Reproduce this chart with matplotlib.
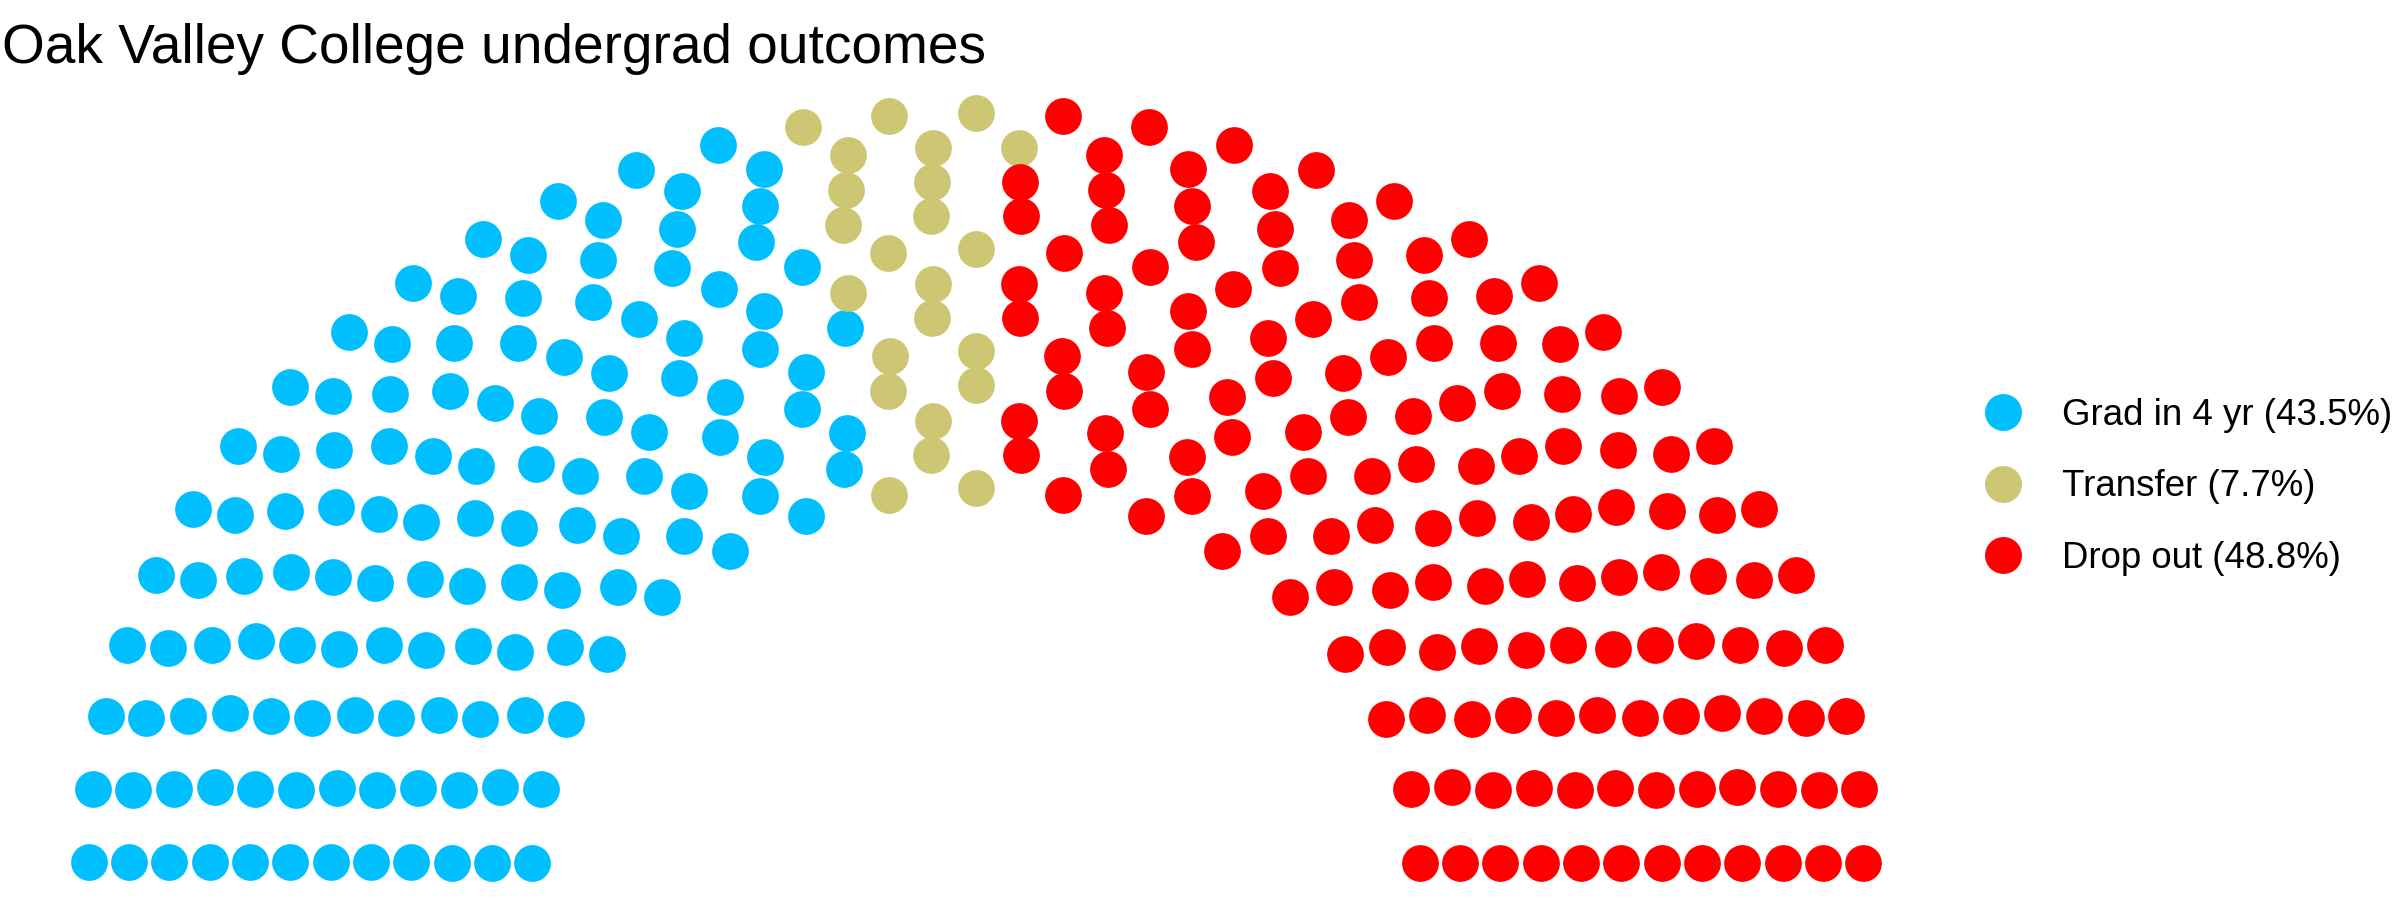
import matplotlib
matplotlib.use("Agg")
import matplotlib.pyplot as plt
from matplotlib.lines import Line2D
from fractions import Fraction
import numpy as np

plt.rcParams['font.family'] = ['Liberation Sans', 'DejaVu Sans']

title = 'Oak Valley College undergrad outcomes'
parties = ['Grad in 4 yr', 'Transfer', 'Drop out']
seats = [130, 23, 146]
colors = ['#00BFFF', '#CDC673', '#FF0000']
n_rows = 12

# semicircle layout: each row gets seats in proportion to its radius,
# from what is left over after the inner rows
total = sum(seats)
radii_exact = [1 + Fraction(i, n_rows - 1) for i in range(n_rows)]
left = total
counts = []
for i in range(n_rows):
    c = round(left * radii_exact[i] / sum(radii_exact[i:]))
    counts.append(c)
    left -= c

radii = np.linspace(1, 2, n_rows)
xs, ys, rows, thetas = [], [], [], []
for i, r in enumerate(radii):
    th = np.linspace(0, np.pi, counts[i])
    xs.append(r * np.cos(th))
    ys.append(r * np.sin(th))
    rows.append(np.full(counts[i], i + 1))
    thetas.append(th)
xs = np.concatenate(xs)
ys = np.concatenate(ys)
rows = np.concatenate(rows)
thetas = np.concatenate(thetas)
order = np.lexsort((-rows, -thetas))
xs, ys = xs[order], ys[order]
party_idx = np.repeat(np.arange(len(parties)), seats)

fig = plt.figure(figsize=(24, 9), dpi=100)
ax = fig.add_axes([0, 0, 1952 / 2400, 825 / 900])
for k, p in enumerate(parties):
    m = party_idx == k
    ax.scatter(xs[m], ys[m], s=700, color=colors[k], linewidths=0)
ax.set_xlim(-2.2, 2.2)
ax.set_ylim(-0.1, 2.1)
ax.axis('off')

fig.text(0.001, 1 - 63 / 900, title, fontsize=39.6, ha='left', va='baseline')

handles = []
labels = []
for k, p in enumerate(parties):
    pct = 100 * seats[k] / total
    handles.append(Line2D([], [], marker='o', linestyle='', markersize=26.6,
                          markerfacecolor=colors[k], markeredgewidth=0))
    labels.append(f'{p} ({pct:.1f}%)')
fig.legend(handles, labels, loc='center left', bbox_to_anchor=(1985 / 2400, 1 - 487 / 900),
           frameon=False, fontsize=26.4, labelspacing=1.0, handletextpad=1.1,
           handlelength=1.0, borderpad=0, borderaxespad=0)

fig.savefig('out.png', dpi=100)
